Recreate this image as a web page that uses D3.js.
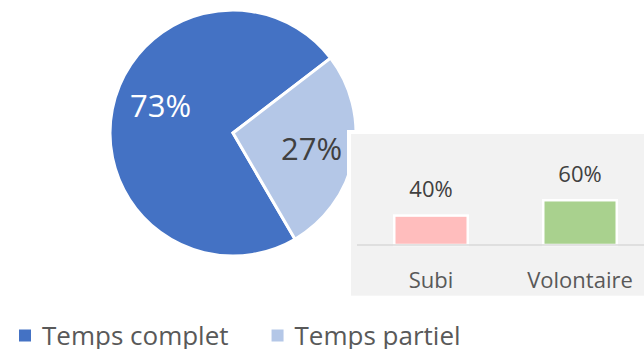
<!DOCTYPE html>
<html>
<head>
<meta charset="utf-8">
<script src="https://cdn.jsdelivr.net/npm/d3@7"></script>
<style>
  html, body { margin: 0; padding: 0; background: #fff; }
  svg { display: block; font-family: "Open Sans", "Noto Sans", sans-serif; }
</style>
</head>
<body>
<svg id="chart" width="644" height="349"></svg>
<script>
// Répartition du temps de travail
const workCategories = ["Temps complet", "Temps partiel"];
const workShares = [73, 27];
const workColors = ["#4472C4", "#B4C7E7"];

// Temps partiel : subi ou volontaire
const partTimeCategories = ["Subi", "Volontaire"];
const partTimeShares = [0.40, 0.60];
const partTimeColors = ["#FFBDBD", "#A9D18E"];

const svg = d3.select("#chart");
const fmtPct = d3.format(".0%");

// ---- Pie ----
const cx = 233, cy = 133, radius = 123;
const startDeg = 149.7;
const pie = d3.pie().sort(null).value(d => d)
  .startAngle(startDeg * Math.PI / 180)
  .endAngle(startDeg * Math.PI / 180 + 2 * Math.PI);
const arcs = pie(workShares);
const arc = d3.arc().innerRadius(0).outerRadius(radius);
const labelArc = d3.arc().innerRadius(160).outerRadius(0);

const pieG = svg.append("g").attr("transform", `translate(${cx},${cy})`);
pieG.selectAll("path").data(arcs).join("path")
  .attr("d", arc)
  .attr("fill", (d, i) => workColors[i])
  .attr("stroke", "#fff")
  .attr("stroke-width", 3)
  .attr("stroke-linejoin", "miter");

// label nudges (px) for readability of the large slice
const labelNudge = [[6, -12], [0, 0]];
const labelFill = ["#FFFFFF", "#404040"];
pieG.selectAll("text").data(arcs).join("text")
  .attr("transform", (d, i) => {
    const [x, y] = labelArc.centroid(d);
    return `translate(${x + labelNudge[i][0]},${y + labelNudge[i][1]})`;
  })
  .attr("text-anchor", "middle")
  .attr("dy", "0.36em")
  .attr("font-size", 31)
  .attr("fill", (d, i) => labelFill[i])
  .text(d => Math.round(d.data) + "%");

// ---- Inset bar chart ----
const inset = svg.append("g");
inset.append("rect").attr("x", 347).attr("y", 130).attr("width", 300).attr("height", 170).attr("fill", "#fff");
inset.append("rect").attr("x", 351).attr("y", 134).attr("width", 296).attr("height", 161.7).attr("fill", "#F2F2F2");

const x = d3.scaleBand().domain(partTimeCategories).range([393, 618]).paddingInner(0.49).paddingOuter(0);
const y = d3.scaleLinear().domain([0, 1]).range([245, 168.3]);

inset.selectAll("rect.bar").data(partTimeShares).join("rect")
  .attr("class", "bar")
  .attr("x", (d, i) => x(partTimeCategories[i]) + 1.25)
  .attr("width", x.bandwidth() - 2.5)
  .attr("y", d => y(d) + 1.25)
  .attr("height", d => y(0) - y(d) - 1.25)
  .attr("fill", (d, i) => partTimeColors[i])
  .attr("stroke", "#fff")
  .attr("stroke-width", 2.5);

inset.append("line")
  .attr("x1", 357).attr("x2", 644)
  .attr("y1", y(0)).attr("y2", y(0))
  .attr("stroke", "#D9D9D9").attr("stroke-width", 1.5);

inset.selectAll("text.val").data(partTimeShares).join("text")
  .attr("class", "val")
  .attr("x", (d, i) => x(partTimeCategories[i]) + x.bandwidth() / 2)
  .attr("y", d => y(d) - 17)
  .attr("text-anchor", "middle")
  .attr("font-size", 22)
  .attr("fill", "#404040")
  .text(d => fmtPct(d));

inset.selectAll("text.cat").data(partTimeCategories).join("text")
  .attr("class", "cat")
  .attr("x", d => x(d) + x.bandwidth() / 2)
  .attr("y", 288)
  .attr("text-anchor", "middle")
  .attr("font-size", 22)
  .attr("fill", "#595959")
  .text(d => d);

// ---- Legend ----
const legend = svg.append("g");
let lx = 19;
workCategories.forEach((name, i) => {
  legend.append("rect").attr("x", lx).attr("y", 329.5).attr("width", 12).attr("height", 12).attr("fill", workColors[i]);
  const t = legend.append("text")
    .attr("x", lx + 23).attr("y", 345)
    .attr("font-size", 26).attr("fill", "#595959")
    .text(name);
  lx += 23 + t.node().getComputedTextLength() + 43;
});
</script>
</body>
</html>
